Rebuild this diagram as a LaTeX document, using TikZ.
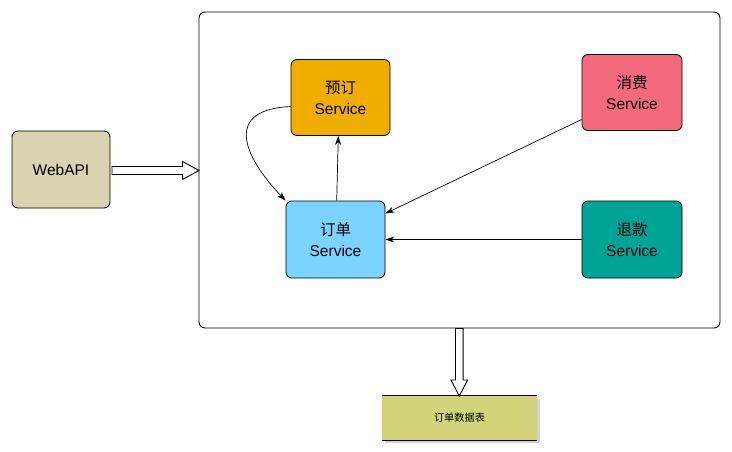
\documentclass[tikz,border=0pt]{standalone}
\usepackage{fontspec}
\setmainfont{Liberation Sans}
\newfontfamily\cjk{Noto Sans CJK SC}
\usetikzlibrary{arrows.meta,shadows}

\definecolor{webtan}{HTML}{D8D3B1}
\definecolor{ydorange}{HTML}{EFAE00}
\definecolor{ddblue}{HTML}{7BD3FF}
\definecolor{xfred}{HTML}{F36A7D}
\definecolor{tkteal}{HTML}{00A497}
\definecolor{tblyellow}{HTML}{D3D47A}

\tikzset{
  svc/.style={draw, line width=0.8pt, rounded corners=6pt, minimum width=99pt,
    minimum height=76pt, align=center, font=\fontsize{15.5}{21}\selectfont},
  conn/.style={-{Stealth[length=9pt,width=6pt]}, line width=0.7pt},
  hollow/.style={draw, fill=white, line width=0.9pt}
}

\begin{document}
\begin{tikzpicture}[x=1pt,y=-1pt]
        \useasboundingbox (0,0) rectangle (732,452);
        % outer frame
        \node[draw, line width=0.9pt, rounded corners=6pt, minimum width=521pt,
          minimum height=316pt] (frame) at (459.5,170) {};
        % services
        \node[svc, fill=webtan, minimum width=98pt, minimum height=77pt] (web) at (61,169.5) {WebAPI};
        \node[svc, fill=ydorange] (yd) at (340.5,97.5) {{\cjk 预订}\\Service};
        \node[svc, fill=ddblue, minimum height=77pt] (dd) at (335.5,239.5) {{\cjk 订单}\\Service};
        \node[svc, fill=xfred, minimum width=100pt] (xf) at (632,92.5) {{\cjk 消费}\\Service};
        \node[svc, fill=tkteal, minimum width=100pt, minimum height=77pt] (tk) at (632,239.5) {{\cjk 退款}\\Service};
        % table
        \node[fill=tblyellow, minimum width=155pt, minimum height=44pt,
          drop shadow={shadow xshift=2.5pt, shadow yshift=-2.5pt, opacity=0.35},
          font=\fontsize{10.2}{12}\selectfont\cjk] (tbl) at (459.5,418) {订单数据表};
        \draw[line width=0.9pt] (tbl.north west) -- (tbl.north east);
        \draw[line width=0.9pt] (tbl.south west) -- (tbl.south east);
        % hollow arrows
        \draw[hollow] (112,166.5) -- (182.5,166.5) -- (182.5,161.5) -- (199,170.5)
          -- (182.5,179.5) -- (182.5,174.5) -- (112,174.5) -- cycle;
        \draw[hollow] (455.5,328.5) -- (455.5,380) -- (451,380) -- (459.3,396)
          -- (467.6,380) -- (463.1,380) -- (463.1,328.5) -- cycle;
        % calls
        \draw[conn] ([yshift=-9pt]yd.west) .. controls +(-66,3) and +(-44,-46) .. (dd.north west);
        \draw[conn] ([xshift=1.2pt]dd.north) -- ([xshift=-2.2pt]yd.south);
        \draw[conn] ([yshift=-27pt]xf.west) -- ([yshift=26pt]dd.east);
        \draw[conn] (tk.west) -- (dd.east);
\end{tikzpicture}
\end{document}
